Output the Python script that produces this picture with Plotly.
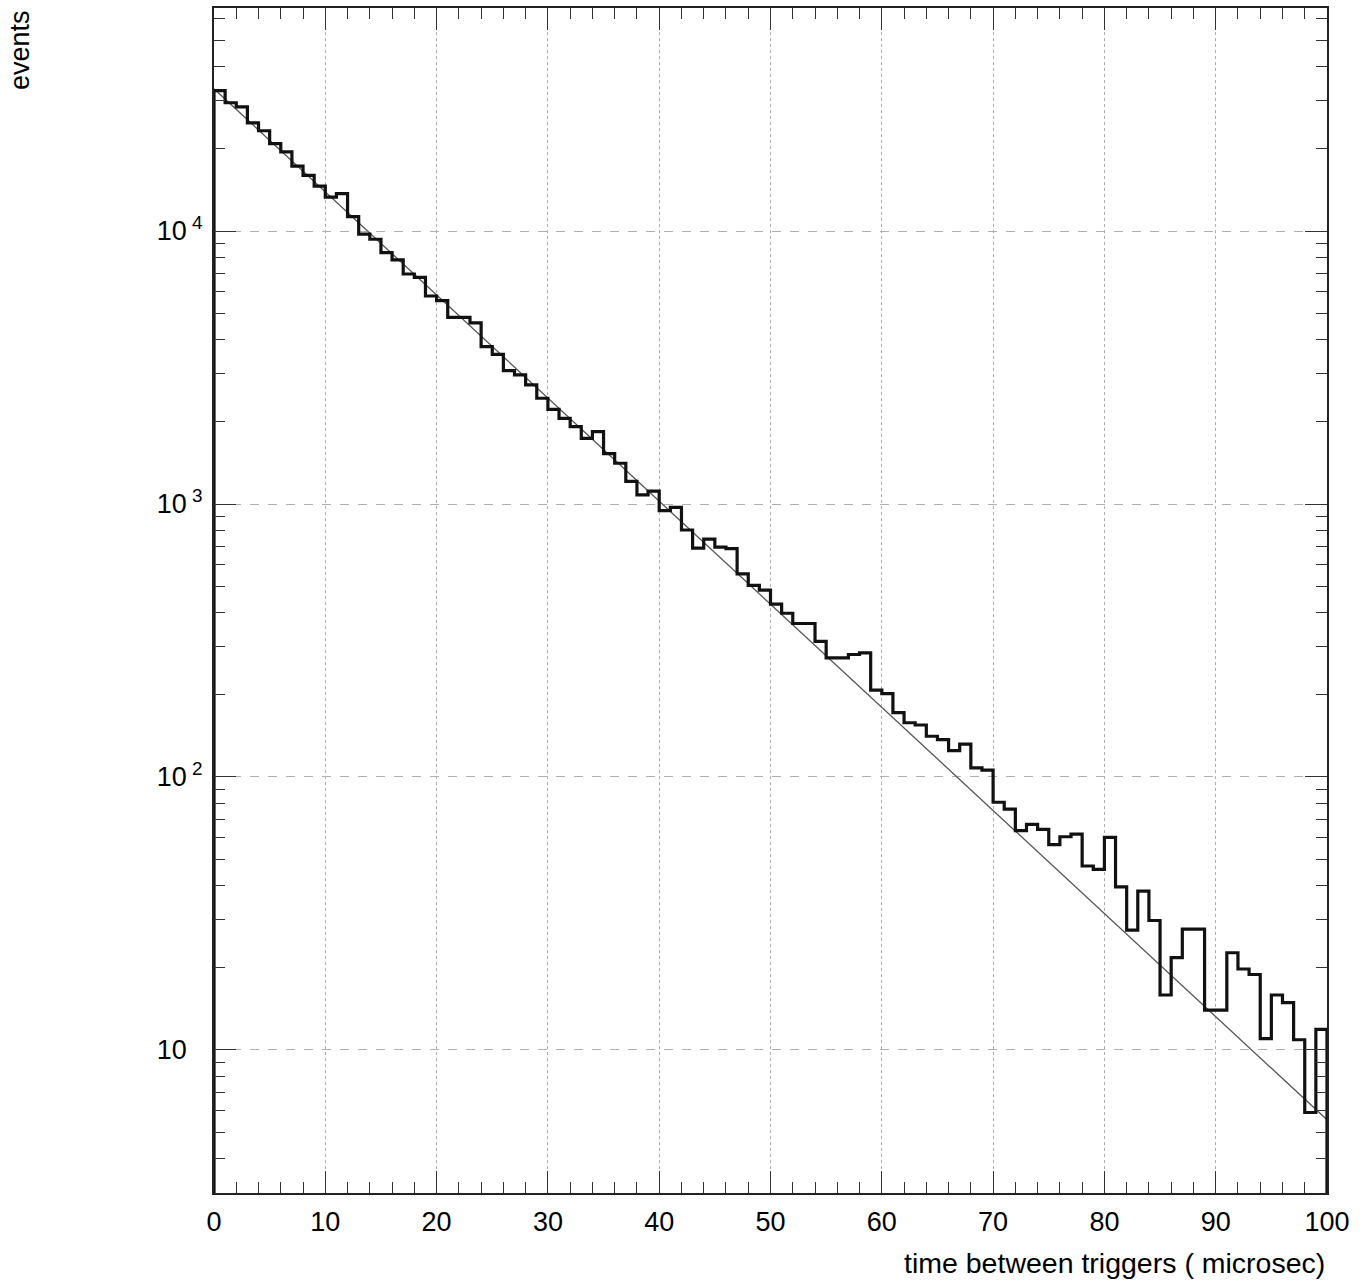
import plotly.graph_objects as go

# histogram: 100 bins of 1 microsecond, counts
bin_lo = 0
bin_width = 1
counts = [
    32700, 29500, 28500, 24900, 23300, 20900, 19500, 17300, 16000, 14600,
    13300, 13700, 11300, 9750, 9330, 8330, 7840, 6960, 6760, 5780,
    5560, 4830, 4830, 4610, 3770, 3530, 3080, 2970, 2730, 2440,
    2220, 2060, 1920, 1740, 1840, 1530, 1410, 1210, 1080, 1115,
    945, 972, 803, 689, 743, 695, 686, 555, 503, 484,
    430, 398, 365, 365, 314, 273, 273, 281, 285, 208,
    202, 172, 158, 155, 141, 137, 125, 132, 108, 106,
    80.8, 76.2, 63.6, 67.1, 64.3, 56.5, 60.4, 61.8, 47.2, 45.9,
    60.1, 39.6, 27.5, 38.2, 29.8, 15.9, 21.8, 27.7, 27.7, 14.0,
    14.0, 22.7, 19.8, 18.9, 11.0, 15.9, 14.9, 10.9, 5.9, 11.9,
]

# exponential fit (straight line on the log axis)
fit_x = [0, 100]
fit_y = [33200, 5.55]

x_range = [0, 100]
y_log_range = [0.476, 4.817]
x_tick_vals = [0, 10, 20, 30, 40, 50, 60, 70, 80, 90, 100]
y_tick_vals = [10, 100, 1000, 10000]
y_tick_text = ["10<sup>\u00a0\u00a0\u00a0</sup>", "10<sup> 2</sup>", "10<sup> 3</sup>", "10<sup> 4</sup>"]
y_minor_mult = [2, 3, 4, 5, 6, 7, 8, 9]
y_minor_decades = [1, 10, 100, 1000, 10000]

# step outline built from bins
edges = [bin_lo + i * bin_width for i in range(len(counts) + 1)]
ybottom = 10 ** y_log_range[0]
sx = [edges[0]]
sy = [ybottom]
for i, c in enumerate(counts):
    sx += [edges[i], edges[i + 1]]
    sy += [c, c]
sx.append(edges[-1])
sy.append(ybottom)

y_minor_vals = [m * d for d in y_minor_decades for m in y_minor_mult]

FONT = "Liberation Sans, Arial, Helvetica, sans-serif"
FS = 27

fig = go.Figure()
fig.add_trace(go.Scatter(x=fit_x, y=fit_y, mode="lines",
                         line=dict(color="#555555", width=1.3),
                         showlegend=False, hoverinfo="skip"))
fig.add_trace(go.Scatter(x=sx, y=sy, mode="lines",
                         line=dict(color="#111111", width=3.2),
                         showlegend=False))

fig.update_layout(
    width=1360, height=1283,
    margin=dict(l=214, r=33, t=8, b=90),
    paper_bgcolor="white", plot_bgcolor="white",
    font=dict(family=FONT, size=FS, color="black"),
    xaxis=dict(range=x_range, tickvals=x_tick_vals, ticks="inside", ticklen=22,
               tickwidth=1.2, tickcolor="#333", automargin=False,
               showline=True, linecolor="#222", linewidth=2, mirror="ticks",
               showgrid=True, gridcolor="#b0b0b0", griddash="dot", gridwidth=1.2,
               zeroline=False, ticklabelstandoff=4,
               minor=dict(ticks="inside", ticklen=11, dtick=2, tickcolor="#333",
                          tickwidth=1.2, showgrid=False),
               tickfont=dict(size=FS)),
    yaxis=dict(type="log", range=y_log_range, tickvals=y_tick_vals, ticktext=y_tick_text,
               ticks="inside", ticklen=22, tickwidth=1.2, tickcolor="#333", automargin=False,
               showline=True, linecolor="#222", linewidth=2, mirror="ticks",
               showgrid=True, gridcolor="#b0b0b0", griddash="dash", gridwidth=1.2,
               zeroline=False, ticklabelstandoff=4,
               minor=dict(ticks="inside", ticklen=11, tickvals=y_minor_vals,
                          tickcolor="#333", tickwidth=1.2, showgrid=False),
               tickfont=dict(size=FS)),
    annotations=[
        dict(text="time between triggers ( microsec)", xref="paper", yref="paper",
             x=1.0, y=(1193 - 1263) / 1185, xanchor="right", yanchor="middle",
             showarrow=False, font=dict(size=28.5)),
        dict(text="events", xref="paper", yref="paper", textangle=-90,
             x=(20 - 214) / 1113, y=(1193 - 8) / 1185, xanchor="center", yanchor="top",
             showarrow=False, font=dict(size=FS)),
    ],
)

fig.write_html("out.html", config={"displayModeBar": False},
               post_script="document.body.style.margin='0';document.body.style.padding='0';")
